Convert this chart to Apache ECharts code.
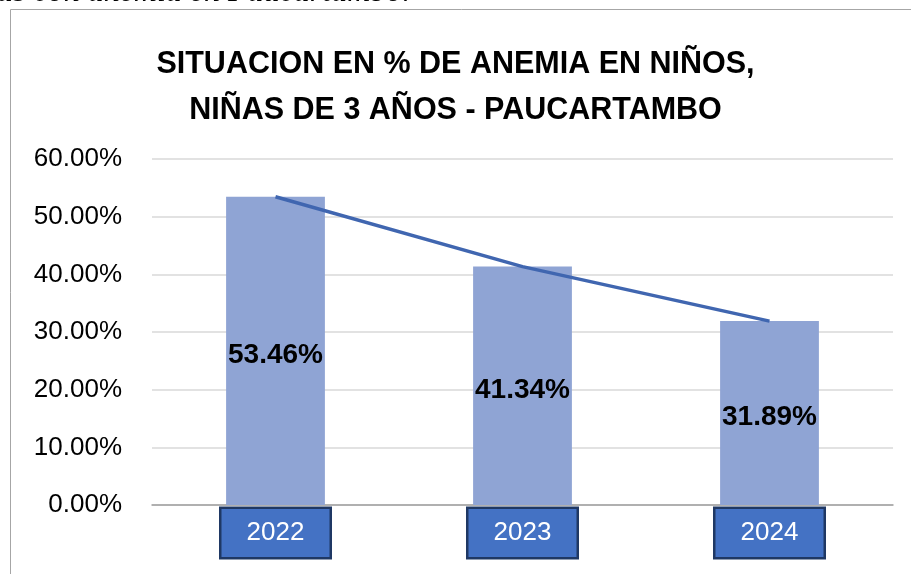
<!DOCTYPE html>
<html>
<head>
<meta charset="utf-8">
<script src="https://cdn.jsdelivr.net/npm/echarts@6/dist/echarts.min.js"></script>
<style>
  html, body { margin: 0; padding: 0; background: #fff; }
  #main { width: 911px; height: 574px; }
</style>
</head>
<body>
<div id="main"></div>
<script>
  // datos
  var anios = ['2022', '2023', '2024'];
  var anemia = [53.46, 41.34, 31.89];
  var tituloLineas = ['SITUACION EN % DE ANEMIA EN NIÑOS,', 'NIÑAS DE 3 AÑOS - PAUCARTAMBO'];
  var textoSuperior = 'as con anemia en Paucartambo.';

  var fuente = '"Liberation Sans", Arial, sans-serif';
  var myChart = echarts.init(document.getElementById('main'));

  var option = {
    backgroundColor: '#ffffff',
    animation: false,
    title: {
      text: tituloLineas.join('\n'),
      left: 'center',
      top: 37,
      textStyle: {
        fontFamily: fuente,
        fontWeight: 'bold',
        fontSize: 30.5,
        lineHeight: 46,
        color: '#000'
      }
    },
    graphic: [
      {
        type: 'rect',
        shape: { x: 10.5, y: 9.5, width: 1000, height: 700 },
        style: { fill: 'none', stroke: '#a6a6a6', lineWidth: 1 },
        silent: true
      },
      {
        type: 'text',
        left: -3,
        top: -23,
        style: {
          text: textoSuperior,
          font: 'italic 32px "Liberation Serif", serif',
          fill: '#000'
        }
      }
    ],
    grid: { left: 152, right: 18, top: 159, bottom: 69 },
    xAxis: {
      type: 'category',
      data: anios,
      axisLine: { lineStyle: { color: '#a0a0a0', width: 1.5 } },
      axisTick: { show: false },
      axisLabel: {
        margin: 4,
        fontFamily: fuente,
        fontSize: 26,
        color: '#ffffff',
        backgroundColor: '#4472c4',
        borderColor: '#1f3864',
        borderWidth: 2.5,
        width: 108,
        height: 48,
        lineHeight: 48,
        align: 'center'
      }
    },
    yAxis: {
      type: 'value',
      min: 0,
      max: 60,
      interval: 10,
      axisLine: { show: false },
      axisTick: { show: false },
      splitLine: { lineStyle: { color: '#d9d9d9', width: 1.5 } },
      axisLabel: {
        margin: 30,
        fontFamily: fuente,
        fontSize: 26,
        color: '#000',
        formatter: function (v) { return v.toFixed(2) + '%'; }
      }
    },
    series: [
      {
        type: 'bar',
        data: anemia,
        barWidth: '40%',
        itemStyle: { color: '#8fa4d4' },
        label: {
          show: true,
          position: 'inside',
          offset: [0, 4],
          fontFamily: fuente,
          fontWeight: 'bold',
          fontSize: 28,
          color: '#000',
          formatter: function (p) { return p.value.toFixed(2) + '%'; }
        },
        z: 2
      },
      {
        type: 'line',
        data: anemia,
        symbol: 'none',
        lineStyle: { color: '#4066b0', width: 3.5 },
        z: 3
      }
    ]
  };

  myChart.setOption(option);
</script>
</body>
</html>
